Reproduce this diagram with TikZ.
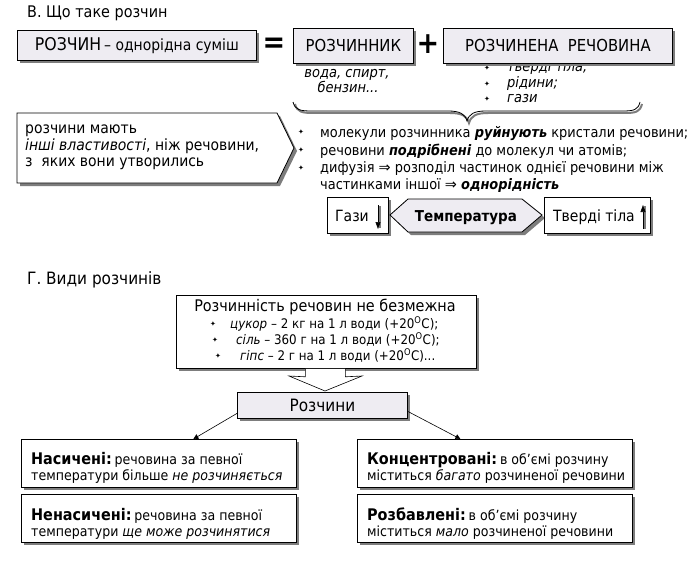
\documentclass[tikz,border=0pt]{standalone}
\usepackage{fontspec}
\setmainfont{DejaVu Sans Condensed}
\newfontfamily\sym{DejaVu Sans}
\usetikzlibrary{shadows,arrows.meta,calc}
\definecolor{boxfill}{RGB}{238,236,242}
\definecolor{shadowgray}{RGB}{125,125,125}
\newcommand{\fs}[1]{\fontsize{#1}{#1}\selectfont}
\begin{document}
\begin{tikzpicture}[x=1pt,y=-1pt,
 shad/.style={drop shadow={shadow xshift=3pt,shadow yshift=-3pt,fill=shadowgray,opacity=1}},
 box/.style={draw=black,line width=0.8pt,fill=white,shad,inner sep=0pt,anchor=north west},
 lav/.style={box,fill=boxfill},
 tx/.style={inner sep=0pt,anchor=base west},
 txc/.style={inner sep=0pt,anchor=base},
 bul/.style={inner sep=0pt,font=\sym\fs{7}},
 conn/.style={draw=black,line width=0.6pt,-{Triangle[length=5pt,width=5pt]}},
]
\useasboundingbox[fill=white] (0,0) rectangle (693,575);

% ---------- Section B ----------
\node[tx,font=\fs{16}] (titleB) at (27,18) {В. Що таке розчин};

\node[lav,minimum width=239pt,minimum height=30pt] (rozchyn) at (17,30)
  {{\fs{17.5}РОЗЧИН} {\fs{15.5}– однорідна суміш}};
\node[inner sep=0pt,font=\bfseries\fs{30}] (eq) at (274,45) {=};

% text partially hidden under the box
\node[tx,font=\itshape\fs{14.5}] (tv) at (507,72) {тверді тіла;};
\node[bul] (b1) at (487,68) {✦};
\node[tx,font=\itshape\fs{14.5}] (rid) at (507,88) {рідини;};
\node[bul] (b2) at (487,84) {✦};
\node[tx,font=\itshape\fs{14.5}] (gaz) at (507,103) {гази};
\node[bul] (b3) at (487,99) {✦};

\node[lav,minimum width=120pt,minimum height=35pt] (rozchynnyk) at (293,28)
  {\fs{16.5}РОЗЧИННИК};
\node[inner sep=0pt,font=\bfseries\fs{30}] (plus) at (428,44) {+};
\node[lav,minimum width=229pt,minimum height=35pt] (rechovyna) at (443,28)
  {\fs{16.5}РОЗЧИНЕНА\ \ РЕЧОВИНА};

\node[txc,font=\itshape\fs{14.5}] (voda) at (347,78) {вода, спирт,};
\node[txc,font=\itshape\fs{14.5}] (benz) at (348,93) {бензин...};

% brace
\begin{scope}[shift={(2,2)}]
\draw[shadowgray,line width=2pt] (293,102) .. controls (295,110) and (300,111) .. (312,111)
  -- (448,111) .. controls (460,111) and (465,114) .. (467,121)
  .. controls (469,114) and (474,111) .. (486,111) -- (622,111)
  .. controls (634,111) and (638,110) .. (640,102);
\end{scope}
\draw[black,line width=0.8pt] (293,102) .. controls (295,110) and (300,111) .. (312,111)
  -- (448,111) .. controls (460,111) and (465,114) .. (467,121)
  .. controls (469,114) and (474,111) .. (486,111) -- (622,111)
  .. controls (634,111) and (638,110) .. (640,102);

% pentagon box
\path[draw=black,line width=0.8pt,fill=white,shad]
  (17,113) -- (277,113) -- (294,148) -- (277,183) -- (17,183) -- cycle;
\node[tx,font=\fs{15.5}] (p1) at (25,133) {розчини мають};
\node[tx,font=\fs{15.5}] (p2) at (25,150) {\textit{інші властивості}, ніж речовини,};
\node[tx,font=\fs{15.5}] (p3) at (25,166) {з\ \ яких вони утворились};

% bullet list
\node[bul] (m1b) at (301,132) {✦};
\node[tx,font=\fs{14.4}] (m1) at (320,137) {молекули розчинника \textbf{\textit{руйнують}} кристали речовини;};
\node[bul] (m2b) at (301,150) {✦};
\node[tx,font=\fs{14.4}] (m2) at (320,155) {речовини \textbf{\textit{подрібнені}} до молекул чи атомів;};
\node[bul] (m3b) at (301,168) {✦};
\node[tx,font=\fs{14.4}] (m3) at (320,172) {дифузія {\sym⇒} розподіл частинок однієї речовини між};
\node[tx,font=\fs{14.4}] (m4) at (320,189) {частинками іншої {\sym⇒} \textbf{\textit{однорідність}}};

% temperature row
\node[box,minimum width=61pt,minimum height=36pt] (gazy) at (327,197) {};
\node[tx,font=\fs{15.5}] (gazyt) at (335,221) {Гази};
\draw[shadowgray,line width=1.5pt] (380,206) -- (380,228);
\draw[black,line width=0.6pt,-{Triangle[length=7pt,width=5pt]}] (378,205) -- (378,229);

\path[draw=black,line width=0.8pt,fill=boxfill,shad]
  (390,215) -- (408,199) -- (522,199) -- (542,215) -- (522,232) -- (408,232) -- cycle;
\node[txc,font=\bfseries\fs{15}] (temp) at (466,221) {Температура};

\node[box,minimum width=106pt,minimum height=36pt] (tverdi) at (544,197) {};
\node[tx,font=\fs{15.5}] (tverdit) at (553,221) {Тверді тіла};
\draw[shadowgray,line width=1.5pt] (645,206) -- (645,229);
\draw[black,line width=0.6pt,-{Triangle[length=7pt,width=5pt]}] (643,229) -- (643,205);

% ---------- Section G ----------
\node[tx,font=\fs{17}] (titleG) at (27,284) {Г. Види розчинів};

\node[box,minimum width=300pt,minimum height=73pt] (rozch) at (176,295) {};
\node[txc,font=\fs{16}] (rzt) at (325,311) {Розчинність речовин не безмежна};
\node[bul] (r1b) at (213,324) {✦};
\node[tx,font=\fs{13.2}] (r1) at (230,328) {\textit{цукор} – 2 кг на 1 л води (+20\textsuperscript{O}C);};
\node[bul] (r2b) at (215,340) {✦};
\node[tx,font=\fs{13.2}] (r2) at (236,344) {\textit{сіль} – 360 г на 1 л води (+20\textsuperscript{O}C);};
\node[bul] (r3b) at (218,356) {✦};
\node[tx,font=\fs{13.2}] (r3) at (240,360) {\textit{гіпс} – 2 г на 1 л води (+20\textsuperscript{O}C)...};

% hollow arrow
\coordinate (hl) at ([xshift=-21pt]rozch.south);
\coordinate (hr) at ([xshift=19pt]rozch.south);
\path[fill=white,draw=black,line width=0.6pt]
  (hl) -- ++(0,8) -- (289,376) -- (325,391) -- (362,376) -- ($(hr)+(0,8)$) -- (hr);

\node[lav,minimum width=170pt,minimum height=26pt] (rozchyny) at (237,392) {\fs{17}Розчини};

% bottom boxes
\node[box,minimum width=275pt,minimum height=48pt] (nas) at (21,439) {};
\node[tx] (nas1) at (31,464) {{\bfseries\fs{16}Насичені:}\ {\fs{14}речовина за певної}};
\node[tx,font=\fs{14}] (nas2) at (31,480) {температури більше \textit{не розчиняється}};

\node[box,minimum width=275pt,minimum height=48pt] (nenas) at (21,494) {};
\node[tx] (nenas1) at (31,520) {{\bfseries\fs{16}Ненасичені:}\ {\fs{14}речовина за певної}};
\node[tx,font=\fs{14}] (nenas2) at (31,536) {температури \textit{ще може розчинятися}};

\node[box,minimum width=275pt,minimum height=48pt] (konc) at (357,439) {};
\node[tx] (konc1) at (367,464) {{\bfseries\fs{16}Концентровані:}\ {\fs{14}в об'ємі розчину}};
\node[tx,font=\fs{14}] (konc2) at (367,480) {міститься \textit{багато} розчиненої речовини};

\node[box,minimum width=275pt,minimum height=48pt] (rozb) at (357,494) {};
\node[tx] (rozb1) at (367,520) {{\bfseries\fs{16}Розбавлені:}\ {\fs{14}в об'ємі розчину}};
\node[tx,font=\fs{14}] (rozb2) at (367,536) {міститься \textit{мало} розчиненої речовини};

% connectors
\draw[conn] ([yshift=-8pt]rozchyny.west) -- ([xshift=34.5pt]nas.north);
\draw[conn] ([yshift=-6pt]rozchyny.east) -- ([xshift=-34.5pt]konc.north);
\end{tikzpicture}
\end{document}
